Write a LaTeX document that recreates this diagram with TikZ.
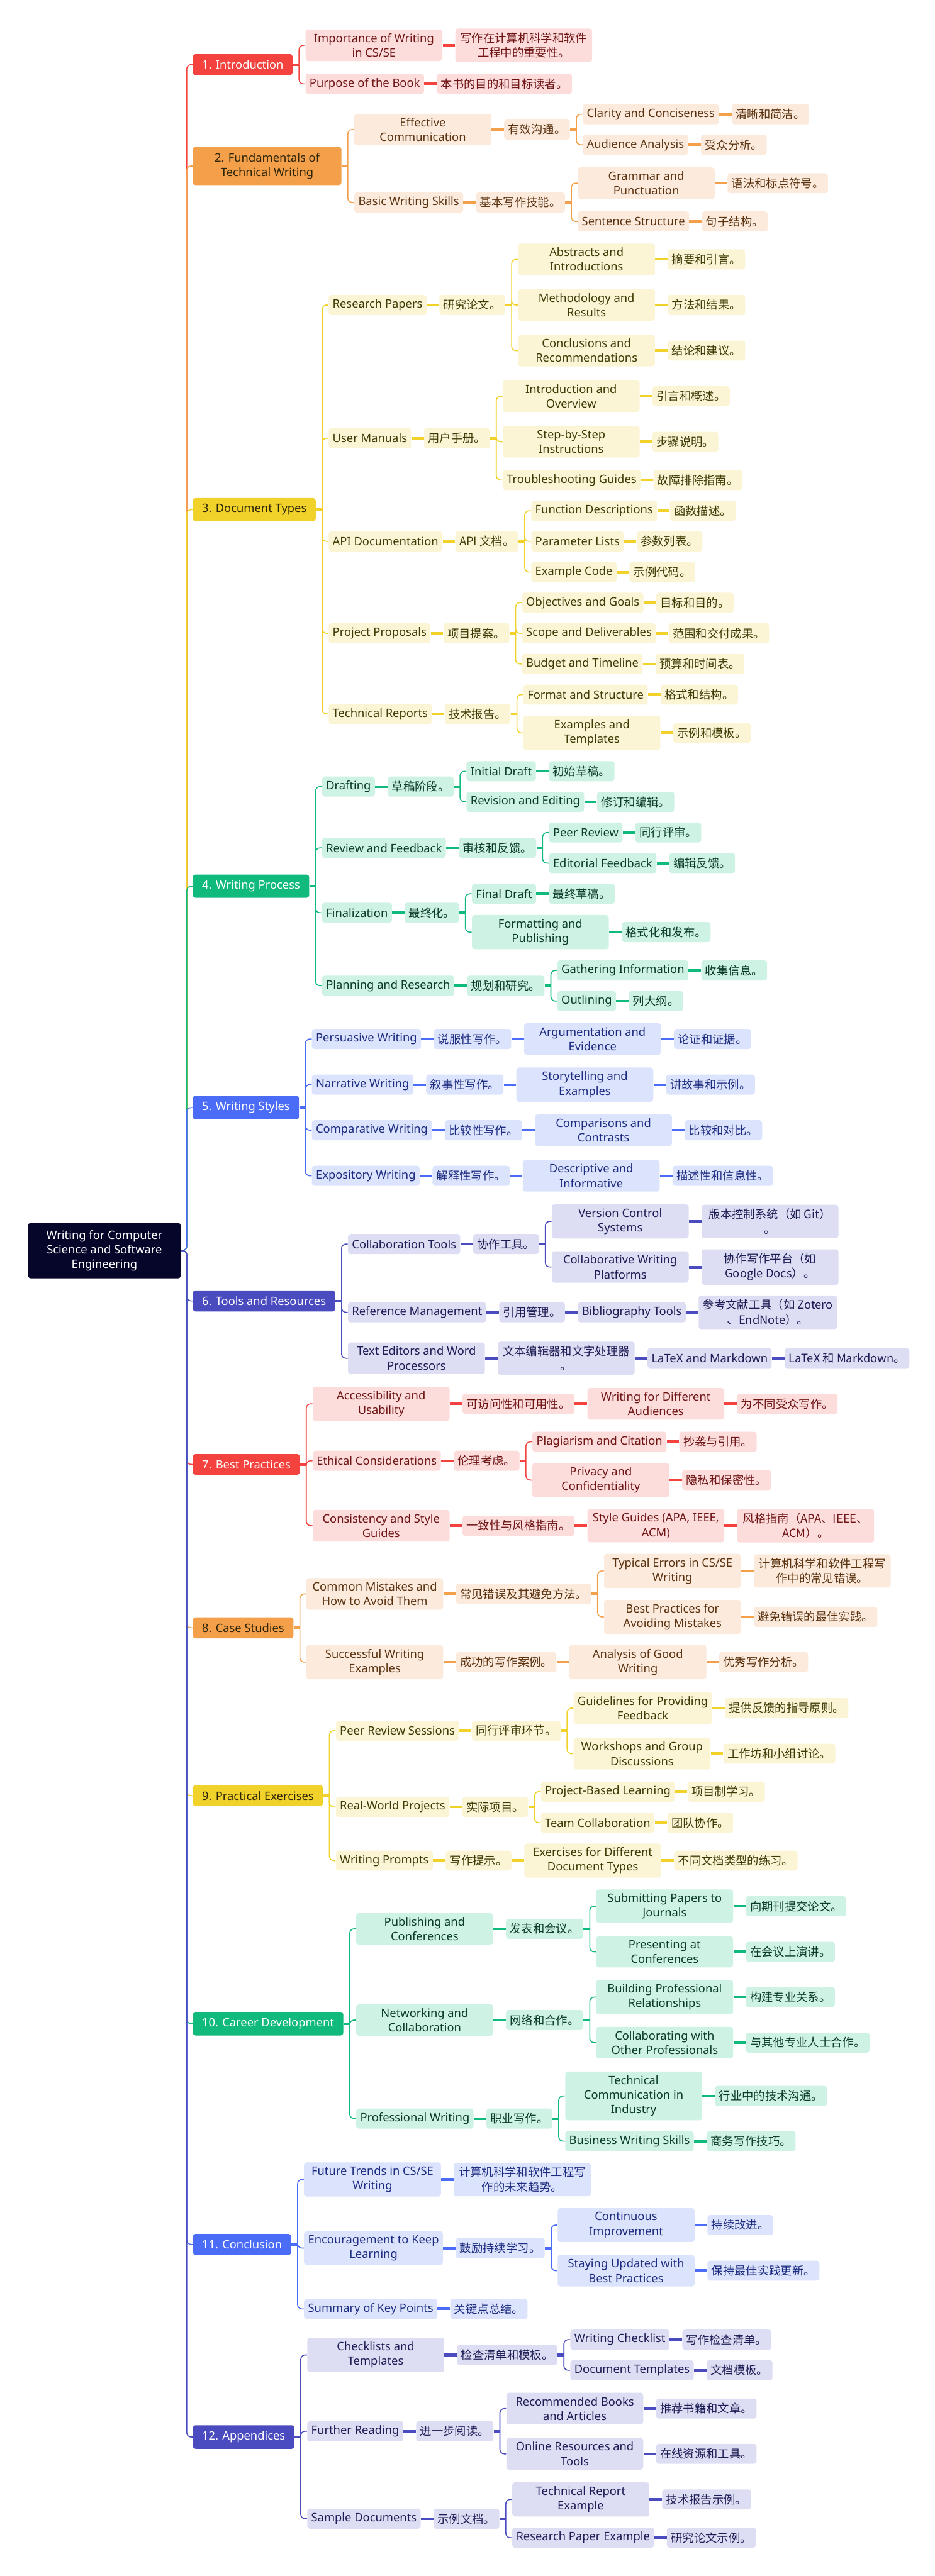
\documentclass[tikz,border=0pt]{standalone}
\usepackage{fontspec}
\setmainfont{Noto Sans}
\newfontfamily\cjk{Noto Sans CJK SC}
\usetikzlibrary{positioning}
\definecolor{RootC}{HTML}{06062A}
\definecolor{HeadT}{HTML}{2E2508}
\definecolor{RedH}{HTML}{F4433F}
\definecolor{RedL}{HTML}{FDDCDC}
\definecolor{RedT}{HTML}{6E1414}
\definecolor{OrgH}{HTML}{F4A04A}
\definecolor{OrgL}{HTML}{FCEBDC}
\definecolor{OrgT}{HTML}{5A3210}
\definecolor{YelH}{HTML}{F1D22A}
\definecolor{YelL}{HTML}{FCF5D5}
\definecolor{YelT}{HTML}{3E3A05}
\definecolor{GrnH}{HTML}{10B97C}
\definecolor{GrnL}{HTML}{CEF2E3}
\definecolor{GrnT}{HTML}{0A3B2A}
\definecolor{BluH}{HTML}{4A6CF6}
\definecolor{BluL}{HTML}{DCE3FD}
\definecolor{BluT}{HTML}{1C2C80}
\definecolor{IndH}{HTML}{4B4BC0}
\definecolor{IndL}{HTML}{DDDDF4}
\definecolor{IndT}{HTML}{1D1D55}
\newcommand\mapfont{\fontsize{9}{11.4}\selectfont}
\tikzset{
  box/.style={fill=#1L, text=#1T, rounded corners=2pt, inner xsep=1.1mm, inner ysep=1.1mm, minimum height=5.5mm, anchor=west, align=center, font=\mapfont},
  wide/.style={minimum width=37.5mm},
  zh/.style={font=\mapfont\cjk},
  head/.style={fill=#1H, text=white, rounded corners=2pt, inner xsep=2.5mm, inner ysep=1.65mm, anchor=west, align=center, font=\mapfont},
  dark/.style={text=HeadT},
  rootbox/.style={fill=RootC, text=white, rounded corners=2pt, minimum width=41.8mm, inner ysep=2mm, align=center, font=\mapfont},
  wire/.style={draw=#1, line width=.8pt, rounded corners=1.2mm},
  link/.style={draw=#1, line width=2pt},
}
\begin{document}
\begin{tikzpicture}[x=1cm, y=-1cm]
\useasboundingbox (0,0) rectangle (25.6,70.61);

\node[rootbox] (root) at (2.86,34.28) {Writing for Computer\\Science and Software\\Engineering};

% 1. Introduction
\node[head=Red] (n1) at ([xshift=3.2mm]root.east |- 0,1.77) {1. Introduction};
\node[box=Red, wide] (n1a) at ([xshift=3.4mm]n1.east |- 0,1.24) {Importance of Writing\\in CS/SE};
\node[box=Red, wide, zh, right=3.4mm of n1a] (n1az) {写作在计算机科学和软件\\工程中的重要性。};
\node[box=Red] (n1b) at ([xshift=3.4mm]n1.east |- 0,2.30) {Purpose of the Book};
\node[box=Red, zh, right=3.4mm of n1b] (n1bz) {本书的目的和目标读者。};
\foreach \p/\k in {n1/n1a, n1/n1b} \draw[wire=RedH] ([xshift=1.7mm]\p.east) |- (\k.west);
\foreach \p in {n1} \draw[link=RedH] (\p.east) -- ++(1.7mm,0);
\foreach \a/\b in {n1a/n1az, n1b/n1bz} \draw[link=RedH] (\a) -- (\b);

% 2. Fundamentals
\node[head=Org, dark, minimum width=40.7mm] (n2) at ([xshift=3.2mm]root.east |- 0,4.55) {2. Fundamentals of\\Technical Writing};
\node[box=Org, wide] (n2a) at ([xshift=3.4mm]n2.east |- 0,3.55) {Effective\\Communication};
\node[box=Org, zh, right=3.4mm of n2a] (n2az) {有效沟通。};
\node[box=Org] (n2aa) at ([xshift=3.4mm]n2az.east |- 0,3.13) {Clarity and Conciseness};
\node[box=Org, zh, right=3.4mm of n2aa] (n2aaz) {清晰和简洁。};
\node[box=Org] (n2ab) at ([xshift=3.4mm]n2az.east |- 0,3.97) {Audience Analysis};
\node[box=Org, zh, right=3.4mm of n2ab] (n2abz) {受众分析。};
\node[box=Org] (n2b) at ([xshift=3.4mm]n2.east |- 0,5.55) {Basic Writing Skills};
\node[box=Org, zh, right=3.4mm of n2b] (n2bz) {基本写作技能。};
\node[box=Org, wide] (n2ba) at ([xshift=3.4mm]n2bz.east |- 0,5.02) {Grammar and\\Punctuation};
\node[box=Org, zh, right=3.4mm of n2ba] (n2baz) {语法和标点符号。};
\node[box=Org] (n2bb) at ([xshift=3.4mm]n2bz.east |- 0,6.07) {Sentence Structure};
\node[box=Org, zh, right=3.4mm of n2bb] (n2bbz) {句子结构。};
\foreach \p/\k in {n2/n2a, n2/n2b, n2az/n2aa, n2az/n2ab, n2bz/n2ba, n2bz/n2bb} \draw[wire=OrgH] ([xshift=1.7mm]\p.east) |- (\k.west);
\foreach \p in {n2, n2az, n2bz} \draw[link=OrgH] (\p.east) -- ++(1.7mm,0);
\foreach \a/\b in {n2a/n2az, n2aa/n2aaz, n2ab/n2abz, n2b/n2bz, n2ba/n2baz, n2bb/n2bbz} \draw[link=OrgH] (\a) -- (\b);

% 3. Document Types
\node[head=Yel, dark] (n3) at ([xshift=3.2mm]root.east |- 0,13.97) {3. Document Types};
\node[box=Yel] (n3a) at ([xshift=3.4mm]n3.east |- 0,8.36) {Research Papers};
\node[box=Yel, zh, right=3.4mm of n3a] (n3az) {研究论文。};
\node[box=Yel, wide] (n3aa) at ([xshift=3.4mm]n3az.east |- 0,7.11) {Abstracts and\\Introductions};
\node[box=Yel, zh, right=3.4mm of n3aa] (n3aaz) {摘要和引言。};
\node[box=Yel, wide] (n3ab) at ([xshift=3.4mm]n3az.east |- 0,8.36) {Methodology and\\Results};
\node[box=Yel, zh, right=3.4mm of n3ab] (n3abz) {方法和结果。};
\node[box=Yel, wide] (n3ac) at ([xshift=3.4mm]n3az.east |- 0,9.61) {Conclusions and\\Recommendations};
\node[box=Yel, zh, right=3.4mm of n3ac] (n3acz) {结论和建议。};
\node[box=Yel] (n3b) at ([xshift=3.4mm]n3.east |- 0,12.01) {User Manuals};
\node[box=Yel, zh, right=3.4mm of n3b] (n3bz) {用户手册。};
\node[box=Yel, wide] (n3ba) at ([xshift=3.4mm]n3bz.east |- 0,10.86) {Introduction and\\Overview};
\node[box=Yel, zh, right=3.4mm of n3ba] (n3baz) {引言和概述。};
\node[box=Yel, wide] (n3bb) at ([xshift=3.4mm]n3bz.east |- 0,12.11) {Step-by-Step\\Instructions};
\node[box=Yel, zh, right=3.4mm of n3bb] (n3bbz) {步骤说明。};
\node[box=Yel] (n3bc) at ([xshift=3.4mm]n3bz.east |- 0,13.16) {Troubleshooting Guides};
\node[box=Yel, zh, right=3.4mm of n3bc] (n3bcz) {故障排除指南。};
\node[box=Yel] (n3c) at ([xshift=3.4mm]n3.east |- 0,14.84) {API Documentation};
\node[box=Yel, zh, right=3.4mm of n3c] (n3cz) {API 文档。};
\node[box=Yel] (n3ca) at ([xshift=3.4mm]n3cz.east |- 0,14.00) {Function Descriptions};
\node[box=Yel, zh, right=3.4mm of n3ca] (n3caz) {函数描述。};
\node[box=Yel] (n3cb) at ([xshift=3.4mm]n3cz.east |- 0,14.84) {Parameter Lists};
\node[box=Yel, zh, right=3.4mm of n3cb] (n3cbz) {参数列表。};
\node[box=Yel] (n3cc) at ([xshift=3.4mm]n3cz.east |- 0,15.68) {Example Code};
\node[box=Yel, zh, right=3.4mm of n3cc] (n3ccz) {示例代码。};
\node[box=Yel] (n3d) at ([xshift=3.4mm]n3.east |- 0,17.36) {Project Proposals};
\node[box=Yel, zh, right=3.4mm of n3d] (n3dz) {项目提案。};
\node[box=Yel] (n3da) at ([xshift=3.4mm]n3dz.east |- 0,16.52) {Objectives and Goals};
\node[box=Yel, zh, right=3.4mm of n3da] (n3daz) {目标和目的。};
\node[box=Yel] (n3db) at ([xshift=3.4mm]n3dz.east |- 0,17.36) {Scope and Deliverables};
\node[box=Yel, zh, right=3.4mm of n3db] (n3dbz) {范围和交付成果。};
\node[box=Yel] (n3dc) at ([xshift=3.4mm]n3dz.east |- 0,18.20) {Budget and Timeline};
\node[box=Yel, zh, right=3.4mm of n3dc] (n3dcz) {预算和时间表。};
\node[box=Yel] (n3e) at ([xshift=3.4mm]n3.east |- 0,19.57) {Technical Reports};
\node[box=Yel, zh, right=3.4mm of n3e] (n3ez) {技术报告。};
\node[box=Yel] (n3ea) at ([xshift=3.4mm]n3ez.east |- 0,19.04) {Format and Structure};
\node[box=Yel, zh, right=3.4mm of n3ea] (n3eaz) {格式和结构。};
\node[box=Yel, wide] (n3eb) at ([xshift=3.4mm]n3ez.east |- 0,20.09) {Examples and\\Templates};
\node[box=Yel, zh, right=3.4mm of n3eb] (n3ebz) {示例和模板。};
\foreach \p/\k in {n3/n3a, n3/n3b, n3/n3c, n3/n3d, n3/n3e, n3az/n3aa, n3az/n3ab, n3az/n3ac, n3bz/n3ba, n3bz/n3bb, n3bz/n3bc, n3cz/n3ca, n3cz/n3cb, n3cz/n3cc, n3dz/n3da, n3dz/n3db, n3dz/n3dc, n3ez/n3ea, n3ez/n3eb} \draw[wire=YelH] ([xshift=1.7mm]\p.east) |- (\k.west);
\foreach \p in {n3, n3az, n3bz, n3cz, n3dz, n3ez} \draw[link=YelH] (\p.east) -- ++(1.7mm,0);
\foreach \a/\b in {n3a/n3az, n3aa/n3aaz, n3ab/n3abz, n3ac/n3acz, n3b/n3bz, n3ba/n3baz, n3bb/n3bbz, n3bc/n3bcz, n3c/n3cz, n3ca/n3caz, n3cb/n3cbz, n3cc/n3ccz, n3d/n3dz, n3da/n3daz, n3db/n3dbz, n3dc/n3dcz, n3e/n3ez, n3ea/n3eaz, n3eb/n3ebz} \draw[link=YelH] (\a) -- (\b);

% 4. Writing Process
\node[head=Grn] (n4) at ([xshift=3.2mm]root.east |- 0,24.29) {4. Writing Process};
\node[box=Grn] (n4a) at ([xshift=3.4mm]n4.east |- 0,21.56) {Drafting};
\node[box=Grn, zh, right=3.4mm of n4a] (n4az) {草稿阶段。};
\node[box=Grn] (n4aa) at ([xshift=3.4mm]n4az.east |- 0,21.14) {Initial Draft};
\node[box=Grn, zh, right=3.4mm of n4aa] (n4aaz) {初始草稿。};
\node[box=Grn] (n4ab) at ([xshift=3.4mm]n4az.east |- 0,21.98) {Revision and Editing};
\node[box=Grn, zh, right=3.4mm of n4ab] (n4abz) {修订和编辑。};
\node[box=Grn] (n4b) at ([xshift=3.4mm]n4.east |- 0,23.24) {Review and Feedback};
\node[box=Grn, zh, right=3.4mm of n4b] (n4bz) {审核和反馈。};
\node[box=Grn] (n4ba) at ([xshift=3.4mm]n4bz.east |- 0,22.82) {Peer Review};
\node[box=Grn, zh, right=3.4mm of n4ba] (n4baz) {同行评审。};
\node[box=Grn] (n4bb) at ([xshift=3.4mm]n4bz.east |- 0,23.66) {Editorial Feedback};
\node[box=Grn, zh, right=3.4mm of n4bb] (n4bbz) {编辑反馈。};
\node[box=Grn] (n4c) at ([xshift=3.4mm]n4.east |- 0,25.02) {Finalization};
\node[box=Grn, zh, right=3.4mm of n4c] (n4cz) {最终化。};
\node[box=Grn] (n4ca) at ([xshift=3.4mm]n4cz.east |- 0,24.50) {Final Draft};
\node[box=Grn, zh, right=3.4mm of n4ca] (n4caz) {最终草稿。};
\node[box=Grn, wide] (n4cb) at ([xshift=3.4mm]n4cz.east |- 0,25.55) {Formatting and\\Publishing};
\node[box=Grn, zh, right=3.4mm of n4cb] (n4cbz) {格式化和发布。};
\node[box=Grn] (n4d) at ([xshift=3.4mm]n4.east |- 0,27.02) {Planning and Research};
\node[box=Grn, zh, right=3.4mm of n4d] (n4dz) {规划和研究。};
\node[box=Grn] (n4da) at ([xshift=3.4mm]n4dz.east |- 0,26.60) {Gathering Information};
\node[box=Grn, zh, right=3.4mm of n4da] (n4daz) {收集信息。};
\node[box=Grn] (n4db) at ([xshift=3.4mm]n4dz.east |- 0,27.44) {Outlining};
\node[box=Grn, zh, right=3.4mm of n4db] (n4dbz) {列大纲。};
\foreach \p/\k in {n4/n4a, n4/n4b, n4/n4c, n4/n4d, n4az/n4aa, n4az/n4ab, n4bz/n4ba, n4bz/n4bb, n4cz/n4ca, n4cz/n4cb, n4dz/n4da, n4dz/n4db} \draw[wire=GrnH] ([xshift=1.7mm]\p.east) |- (\k.west);
\foreach \p in {n4, n4az, n4bz, n4cz, n4dz} \draw[link=GrnH] (\p.east) -- ++(1.7mm,0);
\foreach \a/\b in {n4a/n4az, n4aa/n4aaz, n4ab/n4abz, n4b/n4bz, n4ba/n4baz, n4bb/n4bbz, n4c/n4cz, n4ca/n4caz, n4cb/n4cbz, n4d/n4dz, n4da/n4daz, n4db/n4dbz} \draw[link=GrnH] (\a) -- (\b);

% 5. Writing Styles
\node[head=Blu] (n5) at ([xshift=3.2mm]root.east |- 0,30.36) {5. Writing Styles};
\node[box=Blu] (n5a) at ([xshift=3.4mm]n5.east |- 0,28.48) {Persuasive Writing};
\node[box=Blu, zh, right=3.4mm of n5a] (n5az) {说服性写作。};
\node[box=Blu, wide, right=3.4mm of n5az] (n5aa) {Argumentation and\\Evidence};
\node[box=Blu, zh, right=3.4mm of n5aa] (n5aaz) {论证和证据。};
\node[box=Blu] (n5b) at ([xshift=3.4mm]n5.east |- 0,29.73) {Narrative Writing};
\node[box=Blu, zh, right=3.4mm of n5b] (n5bz) {叙事性写作。};
\node[box=Blu, wide, right=3.4mm of n5bz] (n5ba) {Storytelling and\\Examples};
\node[box=Blu, zh, right=3.4mm of n5ba] (n5baz) {讲故事和示例。};
\node[box=Blu] (n5c) at ([xshift=3.4mm]n5.east |- 0,30.98) {Comparative Writing};
\node[box=Blu, zh, right=3.4mm of n5c] (n5cz) {比较性写作。};
\node[box=Blu, wide, right=3.4mm of n5cz] (n5ca) {Comparisons and\\Contrasts};
\node[box=Blu, zh, right=3.4mm of n5ca] (n5caz) {比较和对比。};
\node[box=Blu] (n5d) at ([xshift=3.4mm]n5.east |- 0,32.23) {Expository Writing};
\node[box=Blu, zh, right=3.4mm of n5d] (n5dz) {解释性写作。};
\node[box=Blu, wide, right=3.4mm of n5dz] (n5da) {Descriptive and\\Informative};
\node[box=Blu, zh, right=3.4mm of n5da] (n5daz) {描述性和信息性。};
\foreach \p/\k in {n5/n5a, n5/n5b, n5/n5c, n5/n5d} \draw[wire=BluH] ([xshift=1.7mm]\p.east) |- (\k.west);
\foreach \p in {n5} \draw[link=BluH] (\p.east) -- ++(1.7mm,0);
\foreach \a/\b in {n5a/n5az, n5az/n5aa, n5aa/n5aaz, n5b/n5bz, n5bz/n5ba, n5ba/n5baz, n5c/n5cz, n5cz/n5ca, n5ca/n5caz, n5d/n5dz, n5dz/n5da, n5da/n5daz} \draw[link=BluH] (\a) -- (\b);

% 6. Tools and Resources
\node[head=Ind] (n6) at ([xshift=3.2mm]root.east |- 0,35.66) {6. Tools and Resources};
\node[box=Ind] (n6a) at ([xshift=3.4mm]n6.east |- 0,34.10) {Collaboration Tools};
\node[box=Ind, zh, right=3.4mm of n6a] (n6az) {协作工具。};
\node[box=Ind, wide] (n6aa) at ([xshift=3.4mm]n6az.east |- 0,33.48) {Version Control\\Systems};
\node[box=Ind, wide, zh, right=3.4mm of n6aa] (n6aaz) {版本控制系统（如 Git）\\。};
\node[box=Ind, wide] (n6ab) at ([xshift=3.4mm]n6az.east |- 0,34.73) {Collaborative Writing\\Platforms};
\node[box=Ind, wide, zh, right=3.4mm of n6ab] (n6abz) {协作写作平台（如\\Google Docs）。};
\node[box=Ind] (n6b) at ([xshift=3.4mm]n6.east |- 0,35.97) {Reference Management};
\node[box=Ind, zh, right=3.4mm of n6b] (n6bz) {引用管理。};
\node[box=Ind, right=3.4mm of n6bz] (n6ba) {Bibliography Tools};
\node[box=Ind, wide, zh, right=3.4mm of n6ba] (n6baz) {参考文献工具（如 Zotero\\、EndNote）。};
\node[box=Ind, wide] (n6c) at ([xshift=3.4mm]n6.east |- 0,37.23) {Text Editors and Word\\Processors};
\node[box=Ind, wide, zh, right=3.4mm of n6c] (n6cz) {文本编辑器和文字处理器\\。};
\node[box=Ind, right=3.4mm of n6cz] (n6ca) {LaTeX and Markdown};
\node[box=Ind, zh, right=3.4mm of n6ca] (n6caz) {LaTeX 和 Markdown。};
\foreach \p/\k in {n6/n6a, n6/n6b, n6/n6c, n6az/n6aa, n6az/n6ab} \draw[wire=IndH] ([xshift=1.7mm]\p.east) |- (\k.west);
\foreach \p in {n6, n6az} \draw[link=IndH] (\p.east) -- ++(1.7mm,0);
\foreach \a/\b in {n6a/n6az, n6aa/n6aaz, n6ab/n6abz, n6b/n6bz, n6bz/n6ba, n6ba/n6baz, n6c/n6cz, n6cz/n6ca, n6ca/n6caz} \draw[link=IndH] (\a) -- (\b);

% 7. Best Practices
\node[head=Red] (n7) at ([xshift=3.2mm]root.east |- 0,40.14) {7. Best Practices};
\node[box=Red, wide] (n7a) at ([xshift=3.4mm]n7.east |- 0,38.48) {Accessibility and\\Usability};
\node[box=Red, zh, right=3.4mm of n7a] (n7az) {可访问性和可用性。};
\node[box=Red, wide, right=3.4mm of n7az] (n7aa) {Writing for Different\\Audiences};
\node[box=Red, zh, right=3.4mm of n7aa] (n7aaz) {为不同受众写作。};
\node[box=Red] (n7b) at ([xshift=3.4mm]n7.east |- 0,40.04) {Ethical Considerations};
\node[box=Red, zh, right=3.4mm of n7b] (n7bz) {伦理考虑。};
\node[box=Red] (n7ba) at ([xshift=3.4mm]n7bz.east |- 0,39.52) {Plagiarism and Citation};
\node[box=Red, zh, right=3.4mm of n7ba] (n7baz) {抄袭与引用。};
\node[box=Red, wide] (n7bb) at ([xshift=3.4mm]n7bz.east |- 0,40.57) {Privacy and\\Confidentiality};
\node[box=Red, zh, right=3.4mm of n7bb] (n7bbz) {隐私和保密性。};
\node[box=Red, wide] (n7c) at ([xshift=3.4mm]n7.east |- 0,41.82) {Consistency and Style\\Guides};
\node[box=Red, zh, right=3.4mm of n7c] (n7cz) {一致性与风格指南。};
\node[box=Red, wide, right=3.4mm of n7cz] (n7ca) {Style Guides (APA, IEEE,\\ACM)};
\node[box=Red, wide, zh, right=3.4mm of n7ca] (n7caz) {风格指南（APA、IEEE、\\ACM）。};
\foreach \p/\k in {n7/n7a, n7/n7b, n7/n7c, n7bz/n7ba, n7bz/n7bb} \draw[wire=RedH] ([xshift=1.7mm]\p.east) |- (\k.west);
\foreach \p in {n7, n7bz} \draw[link=RedH] (\p.east) -- ++(1.7mm,0);
\foreach \a/\b in {n7a/n7az, n7az/n7aa, n7aa/n7aaz, n7b/n7bz, n7ba/n7baz, n7bb/n7bbz, n7c/n7cz, n7cz/n7ca, n7ca/n7caz} \draw[link=RedH] (\a) -- (\b);

% 8. Case Studies
\node[head=Org, dark] (n8) at ([xshift=3.2mm]root.east |- 0,44.62) {8. Case Studies};
\node[box=Org, wide] (n8a) at ([xshift=3.4mm]n8.east |- 0,43.69) {Common Mistakes and\\How to Avoid Them};
\node[box=Org, zh, right=3.4mm of n8a] (n8az) {常见错误及其避免方法。};
\node[box=Org, wide] (n8aa) at ([xshift=3.4mm]n8az.east |- 0,43.06) {Typical Errors in CS/SE\\Writing};
\node[box=Org, wide, zh, right=3.4mm of n8aa] (n8aaz) {计算机科学和软件工程写\\作中的常见错误。};
\node[box=Org, wide] (n8ab) at ([xshift=3.4mm]n8az.east |- 0,44.32) {Best Practices for\\Avoiding Mistakes};
\node[box=Org, zh, right=3.4mm of n8ab] (n8abz) {避免错误的最佳实践。};
\node[box=Org, wide] (n8b) at ([xshift=3.4mm]n8.east |- 0,45.56) {Successful Writing\\Examples};
\node[box=Org, zh, right=3.4mm of n8b] (n8bz) {成功的写作案例。};
\node[box=Org, wide, right=3.4mm of n8bz] (n8ba) {Analysis of Good\\Writing};
\node[box=Org, zh, right=3.4mm of n8ba] (n8baz) {优秀写作分析。};
\foreach \p/\k in {n8/n8a, n8/n8b, n8az/n8aa, n8az/n8ab} \draw[wire=OrgH] ([xshift=1.7mm]\p.east) |- (\k.west);
\foreach \p in {n8, n8az} \draw[link=OrgH] (\p.east) -- ++(1.7mm,0);
\foreach \a/\b in {n8a/n8az, n8aa/n8aaz, n8ab/n8abz, n8b/n8bz, n8bz/n8ba, n8ba/n8baz} \draw[link=OrgH] (\a) -- (\b);

% 9. Practical Exercises
\node[head=Yel, dark] (n9) at ([xshift=3.2mm]root.east |- 0,49.22) {9. Practical Exercises};
\node[box=Yel] (n9a) at ([xshift=3.4mm]n9.east |- 0,47.44) {Peer Review Sessions};
\node[box=Yel, zh, right=3.4mm of n9a] (n9az) {同行评审环节。};
\node[box=Yel, wide] (n9aa) at ([xshift=3.4mm]n9az.east |- 0,46.82) {Guidelines for Providing\\Feedback};
\node[box=Yel, zh, right=3.4mm of n9aa] (n9aaz) {提供反馈的指导原则。};
\node[box=Yel, wide] (n9ab) at ([xshift=3.4mm]n9az.east |- 0,48.07) {Workshops and Group\\Discussions};
\node[box=Yel, zh, right=3.4mm of n9ab] (n9abz) {工作坊和小组讨论。};
\node[box=Yel] (n9b) at ([xshift=3.4mm]n9.east |- 0,49.53) {Real-World Projects};
\node[box=Yel, zh, right=3.4mm of n9b] (n9bz) {实际项目。};
\node[box=Yel] (n9ba) at ([xshift=3.4mm]n9bz.east |- 0,49.11) {Project-Based Learning};
\node[box=Yel, zh, right=3.4mm of n9ba] (n9baz) {项目制学习。};
\node[box=Yel] (n9bb) at ([xshift=3.4mm]n9bz.east |- 0,49.96) {Team Collaboration};
\node[box=Yel, zh, right=3.4mm of n9bb] (n9bbz) {团队协作。};
\node[box=Yel] (n9c) at ([xshift=3.4mm]n9.east |- 0,51.00) {Writing Prompts};
\node[box=Yel, zh, right=3.4mm of n9c] (n9cz) {写作提示。};
\node[box=Yel, wide, right=3.4mm of n9cz] (n9ca) {Exercises for Different\\Document Types};
\node[box=Yel, zh, right=3.4mm of n9ca] (n9caz) {不同文档类型的练习。};
\foreach \p/\k in {n9/n9a, n9/n9b, n9/n9c, n9az/n9aa, n9az/n9ab, n9bz/n9ba, n9bz/n9bb} \draw[wire=YelH] ([xshift=1.7mm]\p.east) |- (\k.west);
\foreach \p in {n9, n9az, n9bz} \draw[link=YelH] (\p.east) -- ++(1.7mm,0);
\foreach \a/\b in {n9a/n9az, n9aa/n9aaz, n9ab/n9abz, n9b/n9bz, n9ba/n9baz, n9bb/n9bbz, n9c/n9cz, n9cz/n9ca, n9ca/n9caz} \draw[link=YelH] (\a) -- (\b);

% 10. Career Development
\node[head=Grn] (n10) at ([xshift=3.2mm]root.east |- 0,55.47) {10. Career Development};
\node[box=Grn, wide] (n10a) at ([xshift=3.4mm]n10.east |- 0,52.87) {Publishing and\\Conferences};
\node[box=Grn, zh, right=3.4mm of n10a] (n10az) {发表和会议。};
\node[box=Grn, wide] (n10aa) at ([xshift=3.4mm]n10az.east |- 0,52.25) {Submitting Papers to\\Journals};
\node[box=Grn, zh, right=3.4mm of n10aa] (n10aaz) {向期刊提交论文。};
\node[box=Grn, wide] (n10ab) at ([xshift=3.4mm]n10az.east |- 0,53.50) {Presenting at\\Conferences};
\node[box=Grn, zh, right=3.4mm of n10ab] (n10abz) {在会议上演讲。};
\node[box=Grn, wide] (n10b) at ([xshift=3.4mm]n10.east |- 0,55.37) {Networking and\\Collaboration};
\node[box=Grn, zh, right=3.4mm of n10b] (n10bz) {网络和合作。};
\node[box=Grn, wide] (n10ba) at ([xshift=3.4mm]n10bz.east |- 0,54.74) {Building Professional\\Relationships};
\node[box=Grn, zh, right=3.4mm of n10ba] (n10baz) {构建专业关系。};
\node[box=Grn, wide] (n10bb) at ([xshift=3.4mm]n10bz.east |- 0,55.99) {Collaborating with\\Other Professionals};
\node[box=Grn, zh, right=3.4mm of n10bb] (n10bbz) {与其他专业人士合作。};
\node[box=Grn] (n10c) at ([xshift=3.4mm]n10.east |- 0,58.07) {Professional Writing};
\node[box=Grn, zh, right=3.4mm of n10c] (n10cz) {职业写作。};
\node[box=Grn, wide] (n10ca) at ([xshift=3.4mm]n10cz.east |- 0,57.45) {Technical\\Communication in\\Industry};
\node[box=Grn, zh, right=3.4mm of n10ca] (n10caz) {行业中的技术沟通。};
\node[box=Grn] (n10cb) at ([xshift=3.4mm]n10cz.east |- 0,58.69) {Business Writing Skills};
\node[box=Grn, zh, right=3.4mm of n10cb] (n10cbz) {商务写作技巧。};
\foreach \p/\k in {n10/n10a, n10/n10b, n10/n10c, n10az/n10aa, n10az/n10ab, n10bz/n10ba, n10bz/n10bb, n10cz/n10ca, n10cz/n10cb} \draw[wire=GrnH] ([xshift=1.7mm]\p.east) |- (\k.west);
\foreach \p in {n10, n10az, n10bz, n10cz} \draw[link=GrnH] (\p.east) -- ++(1.7mm,0);
\foreach \a/\b in {n10a/n10az, n10aa/n10aaz, n10ab/n10abz, n10b/n10bz, n10ba/n10baz, n10bb/n10bbz, n10c/n10cz, n10ca/n10caz, n10cb/n10cbz} \draw[link=GrnH] (\a) -- (\b);

% 11. Conclusion
\node[head=Blu] (n11) at ([xshift=3.2mm]root.east |- 0,61.52) {11. Conclusion};
\node[box=Blu, wide] (n11a) at ([xshift=3.4mm]n11.east |- 0,59.74) {Future Trends in CS/SE\\Writing};
\node[box=Blu, wide, zh, right=3.4mm of n11a] (n11az) {计算机科学和软件工程写\\作的未来趋势。};
\node[box=Blu, wide] (n11b) at ([xshift=3.4mm]n11.east |- 0,61.62) {Encouragement to Keep\\Learning};
\node[box=Blu, zh, right=3.4mm of n11b] (n11bz) {鼓励持续学习。};
\node[box=Blu, wide] (n11ba) at ([xshift=3.4mm]n11bz.east |- 0,60.99) {Continuous\\Improvement};
\node[box=Blu, zh, right=3.4mm of n11ba] (n11baz) {持续改进。};
\node[box=Blu, wide] (n11bb) at ([xshift=3.4mm]n11bz.east |- 0,62.24) {Staying Updated with\\Best Practices};
\node[box=Blu, zh, right=3.4mm of n11bb] (n11bbz) {保持最佳实践更新。};
\node[box=Blu] (n11c) at ([xshift=3.4mm]n11.east |- 0,63.29) {Summary of Key Points};
\node[box=Blu, zh, right=3.4mm of n11c] (n11cz) {关键点总结。};
\foreach \p/\k in {n11/n11a, n11/n11b, n11/n11c, n11bz/n11ba, n11bz/n11bb} \draw[wire=BluH] ([xshift=1.7mm]\p.east) |- (\k.west);
\foreach \p in {n11, n11bz} \draw[link=BluH] (\p.east) -- ++(1.7mm,0);
\foreach \a/\b in {n11a/n11az, n11b/n11bz, n11ba/n11baz, n11bb/n11bbz, n11c/n11cz} \draw[link=BluH] (\a) -- (\b);

% 12. Appendices
\node[head=Ind] (n12) at ([xshift=3.2mm]root.east |- 0,66.80) {12. Appendices};
\node[box=Ind, wide] (n12a) at ([xshift=3.4mm]n12.east |- 0,64.55) {Checklists and\\Templates};
\node[box=Ind, zh, right=3.4mm of n12a] (n12az) {检查清单和模板。};
\node[box=Ind] (n12aa) at ([xshift=3.4mm]n12az.east |- 0,64.13) {Writing Checklist};
\node[box=Ind, zh, right=3.4mm of n12aa] (n12aaz) {写作检查清单。};
\node[box=Ind] (n12ab) at ([xshift=3.4mm]n12az.east |- 0,64.97) {Document Templates};
\node[box=Ind, zh, right=3.4mm of n12ab] (n12abz) {文档模板。};
\node[box=Ind] (n12b) at ([xshift=3.4mm]n12.east |- 0,66.64) {Further Reading};
\node[box=Ind, zh, right=3.4mm of n12b] (n12bz) {进一步阅读。};
\node[box=Ind, wide] (n12ba) at ([xshift=3.4mm]n12bz.east |- 0,66.02) {Recommended Books\\and Articles};
\node[box=Ind, zh, right=3.4mm of n12ba] (n12baz) {推荐书籍和文章。};
\node[box=Ind, wide] (n12bb) at ([xshift=3.4mm]n12bz.east |- 0,67.26) {Online Resources and\\Tools};
\node[box=Ind, zh, right=3.4mm of n12bb] (n12bbz) {在线资源和工具。};
\node[box=Ind] (n12c) at ([xshift=3.4mm]n12.east |- 0,69.04) {Sample Documents};
\node[box=Ind, zh, right=3.4mm of n12c] (n12cz) {示例文档。};
\node[box=Ind, wide] (n12ca) at ([xshift=3.4mm]n12cz.east |- 0,68.51) {Technical Report\\Example};
\node[box=Ind, zh, right=3.4mm of n12ca] (n12caz) {技术报告示例。};
\node[box=Ind] (n12cb) at ([xshift=3.4mm]n12cz.east |- 0,69.56) {Research Paper Example};
\node[box=Ind, zh, right=3.4mm of n12cb] (n12cbz) {研究论文示例。};
\foreach \p/\k in {n12/n12a, n12/n12b, n12/n12c, n12az/n12aa, n12az/n12ab, n12bz/n12ba, n12bz/n12bb, n12cz/n12ca, n12cz/n12cb} \draw[wire=IndH] ([xshift=1.7mm]\p.east) |- (\k.west);
\foreach \p in {n12, n12az, n12bz, n12cz} \draw[link=IndH] (\p.east) -- ++(1.7mm,0);
\foreach \a/\b in {n12a/n12az, n12aa/n12aaz, n12ab/n12abz, n12b/n12bz, n12ba/n12baz, n12bb/n12bbz, n12c/n12cz, n12ca/n12caz, n12cb/n12cbz} \draw[link=IndH] (\a) -- (\b);

% root to sections
\foreach \i/\c in {1/RedH, 2/OrgH, 3/YelH, 4/GrnH, 5/BluH, 6/IndH, 7/RedH, 8/OrgH, 9/YelH, 10/GrnH, 11/BluH, 12/IndH}
  \draw[wire=\c] (root.east) -- ++(1.6mm,0) |- (n\i.west);
\end{tikzpicture}
\end{document}
